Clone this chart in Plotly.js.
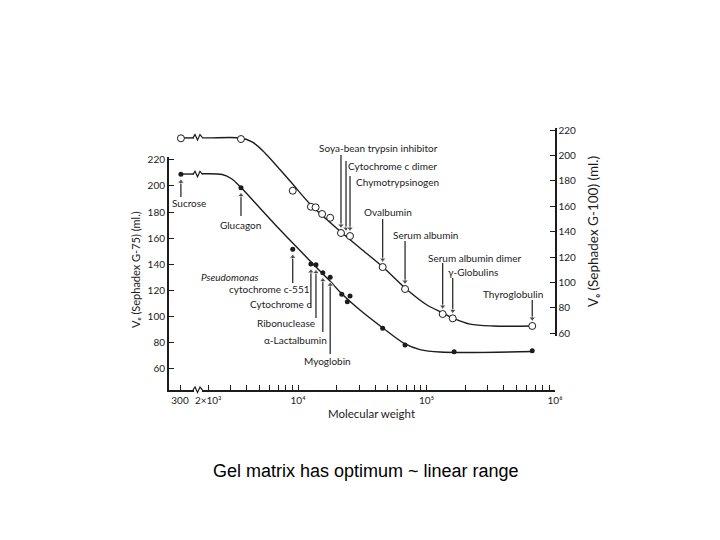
<!DOCTYPE html>
<html><head><meta charset="utf-8">
<script src="https://cdn.plot.ly/plotly-3.0.1.min.js"></script>
<style>html,body{margin:0;padding:0;background:#fff}#chart{width:720px;height:540px}</style>
</head><body><div id="chart"></div>
<script>
// ---------- data ----------
// Sephadex G-75 (filled points, left axis)
const mwG75 = [342, 3600, 9100, 12600, 13800, 15600, 17800, 21900, 24200, 25400, 45600, 68100, 164000, 665000];
const veG75 = [209.0, 198.7, 151.3, 140.0, 139.5, 133.3, 129.8, 116.7, 111.0, 115.4, 90.5, 77.7, 72.5, 73.3];
// Sephadex G-100 (open points, right axis)
const mwG100 = [342, 3600, 9100, 12600, 13700, 15400, 17800, 21600, 25400, 45600, 68100, 133600, 160000, 665000];
const veG100 = [213.5, 212.9, 172.2, 159.6, 159.1, 153.9, 150.9, 138.9, 136.5, 112.1, 94.8, 75.1, 71.7, 65.7];
// hand-drawn calibration curves
const fitG75MW = [1600, 2570, 3060, 3600, 4620, 6050, 7920, 10360, 13560, 17740, 21610, 30360, 45790, 68060, 88940, 127300, 674700];
const fitG75Ve = [209.2, 208.8, 205.4, 198.8, 187.3, 174.6, 162.3, 150.4, 138.5, 126.9, 117.7, 104.6, 90.8, 78.5, 74.2, 72.3, 72.7];
const fitG100MW = [1600, 2030, 3600, 4390, 5340, 8670, 12620, 21610, 30360, 45790, 68060, 100900, 134300, 160600, 218100, 329400, 674700];
const fitG100Ve = [213.8, 213.8, 213.7, 210.6, 203.5, 179.8, 160.9, 139.7, 127.1, 112.1, 95.6, 82.2, 75.9, 71.9, 67.2, 65.7, 65.7];
// flat part of the curves on the short axis segment before the break
const breakFitMW = [342, 3000];
// ticks
const yTicks = [60, 80, 100, 120, 140, 160, 180, 200, 220];
const xBreakTicks = [300];
const xBreakTickText = ['300'];
const xMajorTicks = [2000, 10000, 100000, 1000000];
const xMajorText = ['2×10³', '10⁴', '10⁵', '10⁶'];
const xMinorTicks = [3000,4000,5000,6000,7000,8000,9000,20000,30000,40000,50000,60000,70000,80000,90000,200000,300000,400000,500000,600000,700000,800000,900000];

// labels
const labelsG75 = ['Sucrose','Glucagon','Pseudomonas cytochrome c-551','Cytochrome c','Ribonuclease','α-Lactalbumin','Myoglobin'];
const labelsG100 = ['Soya-bean trypsin inhibitor','Cytochrome c dimer','Chymotrypsinogen','Ovalbumin','Serum albumin','Serum albumin dimer','γ-Globulins','Thyroglobulin'];

// ---------- layout geometry ----------
const W = 720, H = 540, L = 167, R = 555, T = 120, B = 390;
const pw = R - L, ph = B - T;
const P = (x, y) => ({x: (x - L) / pw, y: (B - y) / ph});
const ink = '#1c1c1c';
const FONT = 'Lato, "DejaVu Sans", sans-serif';
const yDom = [0, (B - 157) / ph], yRange = [43.1, 222.3];
const y2Dom = [(B - 336) / ph, (B - 128) / ph], y2Range = [57.8, 221.6];
const xDom = [(202 - L) / pw, 1], xRange = [3.2529, 6.0];
const pxU_L = (yDom[1] - yDom[0]) * ph / (yRange[1] - yRange[0]);
const pxU_R = (y2Dom[1] - y2Dom[0]) * ph / (y2Range[1] - y2Range[0]);
const pxDecade = (xDom[1] - xDom[0]) * pw / (xRange[1] - xRange[0]);
const tailL = py => yRange[1] - (py - (B - yDom[1] * ph)) / pxU_L;
const tailR = py => y2Range[1] - (py - (B - y2Dom[1] * ph)) / pxU_R;

const isBreak = v => v < 1000;
const pick = (xs, ys, f) => { const a = [], b = []; xs.forEach((v, i) => { if (f(v)) { a.push(v); b.push(ys[i]); } }); return [a, b]; };
const [g75BrX, g75BrY] = pick(mwG75, veG75, isBreak);
const [g75X, g75Y] = pick(mwG75, veG75, v => !isBreak(v));
const [g100BrX, g100BrY] = pick(mwG100, veG100, isBreak);
const [g100X, g100Y] = pick(mwG100, veG100, v => !isBreak(v));

const lineStyle = {color: ink, width: 1.4, shape: 'spline', smoothing: 0.9};
const traces = [
  {x: fitG75MW, y: fitG75Ve, xaxis: 'x', yaxis: 'y', mode: 'lines', line: lineStyle, hoverinfo: 'skip'},
  {x: breakFitMW, y: [fitG75Ve[0], fitG75Ve[0]], xaxis: 'x2', yaxis: 'y', mode: 'lines', line: {color: ink, width: 1.4}, hoverinfo: 'skip'},
  {x: fitG100MW, y: fitG100Ve, xaxis: 'x', yaxis: 'y2', mode: 'lines', line: lineStyle, hoverinfo: 'skip'},
  {x: breakFitMW, y: [fitG100Ve[0], fitG100Ve[0]], xaxis: 'x2', yaxis: 'y2', mode: 'lines', line: {color: ink, width: 1.4}, hoverinfo: 'skip'}
];

// pointer arrows drawn as small line traces with a triangle head
const arrowTrace = (mw, ve, xa, ya, tailPy, up, shiftPx) => {
  const m = mw * Math.pow(10, (shiftPx || 0) / pxDecade);
  const tail = ya === 'y' ? tailL(tailPy) : tailR(tailPy);
  const pxU = ya === 'y' ? pxU_L : pxU_R;
  const tip = up ? ve - 7.5 / pxU : ve + 7.5 / pxU;
  traces.push({x: [m, m], y: [tail, tip], xaxis: xa, yaxis: ya, mode: 'lines+markers', hoverinfo: 'skip',
    line: {color: ink, width: 1.2}, marker: {symbol: up ? 'triangle-up' : 'triangle-down', size: [0, 6], color: ink}, cliponaxis: false});
};
arrowTrace(mwG75[0], veG75[0], 'x2', 'y', 197, true);
arrowTrace(mwG75[1], veG75[1], 'x', 'y', 216, true);
arrowTrace(mwG75[2], veG75[2], 'x', 'y', 283, true);
arrowTrace(mwG75[3], veG75[3], 'x', 'y', 308, true);
arrowTrace(mwG75[4], veG75[4], 'x', 'y', 318, true);
arrowTrace(mwG75[5], veG75[5], 'x', 'y', 332, true);
arrowTrace(mwG75[6], veG75[6], 'x', 'y', 354, true);
arrowTrace(mwG100[7], veG100[7], 'x', 'y2', 155, false);
arrowTrace(mwG100[8], veG100[8], 'x', 'y2', 161, false, -4);
arrowTrace(mwG100[8], veG100[8], 'x', 'y2', 176, false);
arrowTrace(mwG100[9], veG100[9], 'x', 'y2', 219, false);
arrowTrace(mwG100[10], veG100[10], 'x', 'y2', 241, false);
arrowTrace(mwG100[11], veG100[11], 'x', 'y2', 263, false);
arrowTrace(mwG100[12], veG100[12], 'x', 'y2', 278, false);
arrowTrace(mwG100[13], veG100[13], 'x', 'y2', 300, false);

// data markers on top
traces.push(
  {x: g75X, y: g75Y, xaxis: 'x', yaxis: 'y', mode: 'markers', name: 'G-75', marker: {symbol: 'circle', size: 5, color: ink}, cliponaxis: false},
  {x: g75BrX, y: g75BrY, xaxis: 'x2', yaxis: 'y', mode: 'markers', name: 'G-75', marker: {symbol: 'circle', size: 5, color: ink}, cliponaxis: false},
  {x: g100X, y: g100Y, xaxis: 'x', yaxis: 'y2', mode: 'markers', name: 'G-100', marker: {symbol: 'circle', size: 7, color: '#fff', line: {color: ink, width: 1}}, cliponaxis: false},
  {x: g100BrX, y: g100BrY, xaxis: 'x2', yaxis: 'y2', mode: 'markers', name: 'G-100', marker: {symbol: 'circle', size: 7, color: '#fff', line: {color: ink, width: 1}}, cliponaxis: false}
);

const tickFont = {family: FONT, size: 10, color: ink};
const axBase = {showgrid: false, zeroline: false, showline: true, linecolor: ink, linewidth: 1.5, ticks: 'inside', ticklen: 5, tickwidth: 1, tickcolor: ink, tickfont: tickFont, fixedrange: true};

const ann = [];
const txt = (text, px, py, extra) => { const p = P(px, py); ann.push(Object.assign({text, x: p.x, y: p.y, xref: 'paper', yref: 'paper', xanchor: 'left', yanchor: 'middle', showarrow: false, font: {family: FONT, size: 10, color: ink}}, extra || {})); };

txt(labelsG75[0], 170, 203);
txt(labelsG75[1], 218, 225);
txt('<i>Pseudomonas</i>', 199, 277); txt('cytochrome c-551', 227, 289);
txt(labelsG75[3], 248, 304);
txt(labelsG75[4], 255, 323);
txt(labelsG75[5], 262, 340);
txt(labelsG75[6], 302, 361);
txt(labelsG100[0], 317, 148);
txt(labelsG100[1], 346, 166);
txt(labelsG100[2], 354, 182);
txt(labelsG100[3], 362, 212);
txt(labelsG100[4], 391, 235);
txt(labelsG100[5], 426, 258);
txt(labelsG100[6], 446, 272);
txt(labelsG100[7], 481, 294);
// axis titles
txt('Vₑ (Sephadex G-75) (ml.)', 135, 270, {textangle: -90, xanchor: 'center', font: {family: FONT, size: 11, color: ink}});
txt('Vₑ (Sephadex G-100) (ml.)', 593, 232, {textangle: -90, xanchor: 'center', font: {family: FONT, size: 13.5, color: ink}});
txt('Molecular weight', 371, 413, {xanchor: 'center', font: {family: FONT, size: 11.5, color: ink}});
// caption
txt('Gel matrix has optimum ~ linear range', 366, 471, {xanchor: 'center', font: {family: '"Liberation Sans", Arial, sans-serif', size: 18, color: '#000'}});

// axis-break squiggles (decoration)
const squig = (py) => { const pts = [[193, 0], [195, -3], [197.5, 2.5], [200, -3], [202.5, 0]].map(([x, d]) => P(x, py + d));
  return {type: 'path', xref: 'paper', yref: 'paper', path: 'M' + pts.map(p => p.x + ',' + p.y).join(' L'), line: {color: ink, width: 1.2}}; };
const shapes = [squig(390), squig(137.6), squig(174.3)];

const layout = {
  width: W, height: H, margin: {l: L, r: W - R, t: T, b: H - B, pad: 0},
  paper_bgcolor: '#fff', plot_bgcolor: 'rgba(0,0,0,0)', showlegend: false,
  xaxis: Object.assign({}, axBase, {type: 'log', domain: xDom, range: xRange, anchor: 'y', tickmode: 'array', tickvals: xMajorTicks, ticktext: xMajorText, tickangle: 0,
    minor: {tickmode: 'array', tickvals: xMinorTicks, ticks: 'inside', ticklen: 5, tickwidth: 1, tickcolor: ink, showgrid: false}}),
  xaxis2: Object.assign({}, axBase, {type: 'log', domain: [0, (194 - L) / pw], range: [1.6646, 3.352], anchor: 'y', tickmode: 'array', tickvals: xBreakTicks, ticktext: xBreakTickText}),
  yaxis: Object.assign({}, axBase, {domain: yDom, range: yRange, anchor: 'free', position: 0, side: 'left', tickmode: 'array', tickvals: yTicks}),
  yaxis2: Object.assign({}, axBase, {domain: y2Dom, range: y2Range, anchor: 'free', position: 1, side: 'right', tickmode: 'array', tickvals: yTicks}),
  annotations: ann, shapes: shapes
};
Plotly.newPlot('chart', traces, layout, {staticPlot: true, displayModeBar: false});
</script></body></html>
